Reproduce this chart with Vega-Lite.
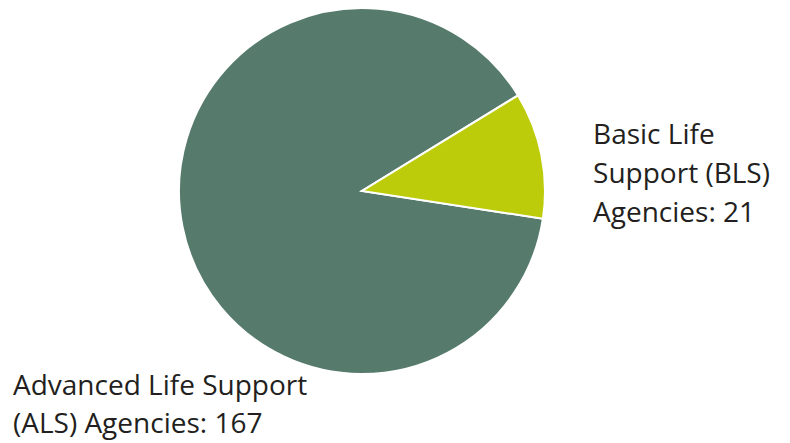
{
  "$schema": "https://vega.github.io/schema/vega-lite/v6.json",
  "width": 724,
  "height": 382,
  "autosize": {"type": "none"},
  "padding": {"left": 0, "top": 0, "right": 66, "bottom": 61},
  "background": "white",
  "config": {"view": {"stroke": null}},
  "data": {
    "values": [
      {"group": "Advanced Life Support (ALS)", "agencies": 167, "label": "Advanced Life Support\n(ALS) Agencies: 167"},
      {"group": "Basic Life Support (BLS)", "agencies": 21, "label": "Basic Life\nSupport (BLS)\nAgencies: 21"}
    ]
  },
  "encoding": {
    "theta": {"field": "agencies", "type": "quantitative", "stack": true, "scale": {"range": [1.7227, 8.0059]}}
  },
  "layer": [
    {
      "mark": {"type": "arc", "outerRadius": 183, "stroke": "white", "strokeWidth": 2},
      "encoding": {
        "color": {
          "field": "group", "type": "nominal",
          "scale": {"domain": ["Advanced Life Support (ALS)", "Basic Life Support (BLS)"], "range": ["#567b6d", "#bdcc0a"]},
          "legend": null
        }
      }
    },
    {
      "mark": {"type": "text", "radius": 200, "align": "left", "baseline": "top", "dx": 35, "dy": -29.5, "font": "Open Sans", "fontSize": 28, "lineHeight": 39, "lineBreak": "\n", "color": "#231f20"},
      "encoding": {
        "detail": {"field": "group"},
        "text": {"condition": {"test": "datum.group === 'Basic Life Support (BLS)'", "field": "label"}, "value": ""}
      }
    },
    {
      "mark": {"type": "text", "radius": 200, "align": "left", "baseline": "top", "dx": -153, "dy": 142.5, "font": "Open Sans", "fontSize": 28, "lineHeight": 38, "lineBreak": "\n", "color": "#231f20"},
      "encoding": {
        "detail": {"field": "group"},
        "text": {"condition": {"test": "datum.group === 'Advanced Life Support (ALS)'", "field": "label"}, "value": ""}
      }
    }
  ]
}
